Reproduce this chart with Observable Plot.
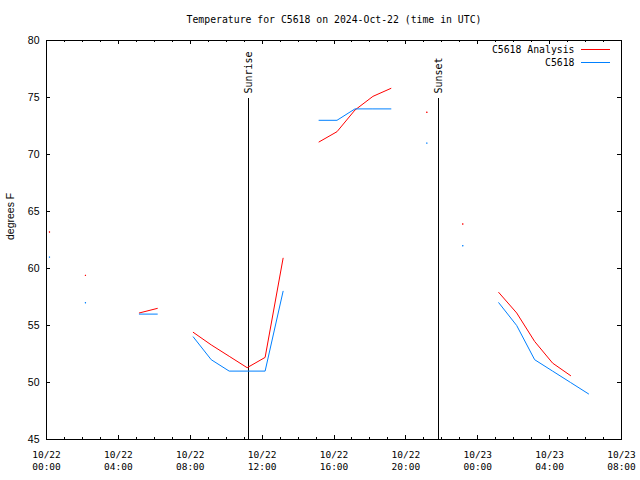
<!DOCTYPE html>
<html>
<head>
<meta charset="utf-8">
<script src="https://cdn.jsdelivr.net/npm/d3@7"></script>
<script src="https://cdn.jsdelivr.net/npm/@observablehq/plot@0.6"></script>
<style>
  html, body { margin: 0; padding: 0; background: white; overflow: hidden; }
</style>
</head>
<body>
<div id="chart"></div>
<script>
// ---- data ----
const titleText = "Temperature for C5618 on 2024-Oct-22 (time in UTC)";
const yLabel = "degrees F";
const seriesNames = ["C5618 Analysis", "C5618"];
const seriesColors = ["#ff0000", "#0080ff"];

const times = [
  "2024-10-22T00:10Z","2024-10-22T01:10Z","2024-10-22T02:10Z","2024-10-22T03:10Z",
  "2024-10-22T04:10Z","2024-10-22T05:10Z","2024-10-22T06:10Z","2024-10-22T07:10Z",
  "2024-10-22T08:10Z","2024-10-22T09:10Z","2024-10-22T10:10Z","2024-10-22T11:10Z",
  "2024-10-22T12:10Z","2024-10-22T13:10Z","2024-10-22T14:10Z","2024-10-22T15:10Z",
  "2024-10-22T16:10Z","2024-10-22T17:10Z","2024-10-22T18:10Z","2024-10-22T19:10Z",
  "2024-10-22T20:10Z","2024-10-22T21:10Z","2024-10-22T22:10Z","2024-10-22T23:10Z",
  "2024-10-23T00:10Z","2024-10-23T01:10Z","2024-10-23T02:10Z","2024-10-23T03:10Z",
  "2024-10-23T04:10Z","2024-10-23T05:10Z","2024-10-23T06:10Z"
];
const analysis = [63.2,null,59.4,null,null,56.1,56.5,null,54.4,53.3,52.3,51.3,52.2,60.9,null,
  71.1,72.0,73.9,75.1,75.8,null,73.7,null,63.9,null,57.9,56.1,53.6,51.7,50.6,null];
const observed = [61,null,57,null,null,56,56,null,54,52,51,51,51,58,null,
  73,73,74,74,74,null,71,null,62,null,57,55,52,51,50,49];

const xDomain = ["2024-10-22T00:00Z", "2024-10-23T08:00Z"];
const xMajorTicks = ["2024-10-22T00:00Z","2024-10-22T04:00Z","2024-10-22T08:00Z","2024-10-22T12:00Z",
  "2024-10-22T16:00Z","2024-10-22T20:00Z","2024-10-23T00:00Z","2024-10-23T04:00Z","2024-10-23T08:00Z"];
const yDomain = [45, 80];
const yTicks = [45, 50, 55, 60, 65, 70, 75, 80];

const sunLabels = ["Sunrise", "Sunset"];
const sunTimes = ["2024-10-22T11:15Z", "2024-10-22T21:49Z"];

// ---- build tables ----
const parse = (s) => new Date(s);
const rows = times.map((t, i) => ({time: parse(t), analysis: analysis[i], observed: observed[i]}));
function isolated(key) {
  return rows.filter((r, i) => r[key] != null &&
    (i === 0 || rows[i - 1][key] == null) &&
    (i === rows.length - 1 || rows[i + 1][key] == null));
}
const majors = xMajorTicks.map(parse);
const minors = d3.utcHour.range(parse(xDomain[0]), d3.utcHour.offset(parse(xDomain[1]), 1));
const sun = sunLabels.map((l, i) => ({label: l, time: parse(sunTimes[i])}));
const legend = seriesNames.map((n, i) => ({name: n, color: seriesColors[i], row: i}));

const W = 640, H = 480, ML = 46, MR = 19, MT = 40, MB = 41;
const FW = W - ML - MR, FH = H - MT - MB;
const mono = "DejaVu Sans Mono, monospace";
const sans = "Liberation Sans, Arial, sans-serif";

const legendMark = (index, scales, values, dims) => {
  const g = d3.create("svg:g");
  const right = dims.width - dims.marginRight;
  legend.forEach((d) => {
    const y = dims.marginTop + 9.5 + d.row * 13;
    g.append("line")
      .attr("x1", right - 40).attr("x2", right - 11)
      .attr("y1", y).attr("y2", y)
      .attr("stroke", d.color).attr("stroke-width", 1);
  });
  return g.node();
};

const chart = Plot.plot({
  width: W, height: H,
  marginLeft: ML, marginRight: MR, marginTop: MT, marginBottom: MB,
  style: {background: "white", color: "black"},
  x: {type: "utc", domain: xDomain.map(parse), axis: null},
  y: {domain: yDomain, axis: null},
  marks: [
    // ticks (inward, mirrored)
    Plot.tickX(minors, {x: d => d, insetTop: FH - 2, stroke: "black", shapeRendering: "crispEdges"}),
    Plot.tickX(minors, {x: d => d, insetBottom: FH - 2, stroke: "black", shapeRendering: "crispEdges"}),
    Plot.tickX(majors, {x: d => d, insetTop: FH - 4, stroke: "black", shapeRendering: "crispEdges"}),
    Plot.tickX(majors, {x: d => d, insetBottom: FH - 4, stroke: "black", shapeRendering: "crispEdges"}),
    Plot.tickY(yTicks, {y: d => d, insetRight: FW - 4, stroke: "black", shapeRendering: "crispEdges"}),
    Plot.tickY(yTicks, {y: d => d, insetLeft: FW - 4, stroke: "black", shapeRendering: "crispEdges"}),
    // sunrise / sunset
    Plot.ruleX(sun, {x: "time", insetTop: 58, stroke: "black", shapeRendering: "crispEdges"}),
    Plot.text(sun, {x: "time", text: "label", frameAnchor: "top", dy: 53, rotate: -90,
      textAnchor: "start", lineAnchor: "middle", fontFamily: mono, fontSize: 10, fill: "black"}),
    // data
    Plot.line(rows, {x: "time", y: "analysis", stroke: seriesColors[0], strokeWidth: 1}),
    Plot.line(rows, {x: "time", y: "observed", stroke: seriesColors[1], strokeWidth: 1}),
    Plot.dot(isolated("analysis"), {x: "time", y: "analysis", r: 0.7, fill: seriesColors[0], stroke: null}),
    Plot.dot(isolated("observed"), {x: "time", y: "observed", r: 0.7, fill: seriesColors[1], stroke: null}),
    // frame
    Plot.frame({stroke: "black", shapeRendering: "crispEdges"}),
    // x tick labels
    Plot.text(majors, {x: d => d, text: d3.utcFormat("%m/%d"), frameAnchor: "bottom", dy: 15.5,
      lineAnchor: "middle", fontFamily: mono, fontSize: 9.5, fill: "black"}),
    Plot.text(majors, {x: d => d, text: d3.utcFormat("%H:%M"), frameAnchor: "bottom", dy: 27,
      lineAnchor: "middle", fontFamily: mono, fontSize: 9.5, fill: "black"}),
    // y tick labels
    Plot.text(yTicks, {y: d => d, text: d => String(d), frameAnchor: "left", textAnchor: "end", dx: -7,
      fontFamily: sans, fontSize: 10.5, fill: "black"}),
    // y label
    Plot.text([yLabel], {text: d => d, frameAnchor: "left", dx: -36, rotate: -90,
      fontFamily: sans, fontSize: 10.5, fill: "black"}),
    // title
    Plot.text([titleText], {text: d => d, frameAnchor: "top", dy: -21, lineAnchor: "middle",
      fontFamily: mono, fontSize: 9.8, fill: "black"}),
    // legend labels
    Plot.text([legend[0]], {text: "name", frameAnchor: "top-right", textAnchor: "end", lineAnchor: "middle",
      dx: -47, dy: 9.5, fontFamily: mono, fontSize: 9.8, fill: "black"}),
    Plot.text([legend[1]], {text: "name", frameAnchor: "top-right", textAnchor: "end", lineAnchor: "middle",
      dx: -47, dy: 22.5, fontFamily: mono, fontSize: 9.8, fill: "black"}),
    legendMark
  ]
});
document.getElementById("chart").appendChild(chart);
</script>
</body>
</html>
